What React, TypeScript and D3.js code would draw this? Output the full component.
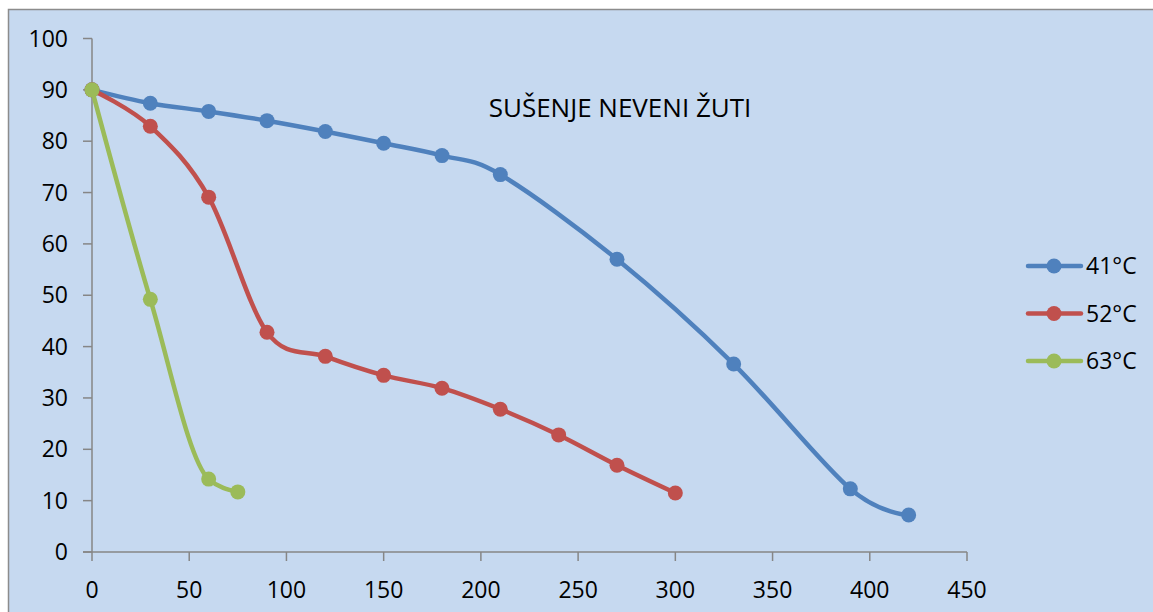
import React from "react";
import * as d3 from "d3";

const xTicks = [0, 50, 100, 150, 200, 250, 300, 350, 400, 450];
const yTicks = [0, 10, 20, 30, 40, 50, 60, 70, 80, 90, 100];

const t41x = [0, 30, 60, 90, 120, 150, 180, 210, 270, 330, 390, 420];
const t41y = [90, 87.4, 85.8, 84.0, 81.9, 79.6, 77.2, 73.5, 57.0, 36.6, 12.3, 7.2];
const t52x = [0, 30, 60, 90, 120, 150, 180, 210, 240, 270, 300];
const t52y = [90, 82.9, 69.1, 42.8, 38.1, 34.4, 31.9, 27.8, 22.8, 16.9, 11.5];
const t63x = [0, 30, 60, 75];
const t63y = [90, 49.2, 14.2, 11.7];

const seriesNames = ["41°C", "52°C", "63°C"];
const seriesColors = ["#4F81BD", "#C0504D", "#9BBB59"];
const title = "SUŠENJE NEVENI ŽUTI";

export default function App() {
  const W = 1153, H = 612;
  const x = d3.scaleLinear().domain([0, 450]).range([92, 967]);
  const y = d3.scaleLinear().domain([0, 100]).range([552, 38.5]);
  const series = [
    { name: seriesNames[0], color: seriesColors[0], pts: t41x.map((v, i) => [v, t41y[i]] as [number, number]), mono: false },
    { name: seriesNames[1], color: seriesColors[1], pts: t52x.map((v, i) => [v, t52y[i]] as [number, number]), mono: false },
    { name: seriesNames[2], color: seriesColors[2], pts: t63x.map((v, i) => [v, t63y[i]] as [number, number]), mono: true },
  ];
  const lineCR = d3.line<[number, number]>().x(d => x(d[0])).y(d => y(d[1])).curve(d3.curveCatmullRom.alpha(0));
  const lineMono = d3.line<[number, number]>().x(d => x(d[0])).y(d => y(d[1])).curve(d3.curveMonotoneX);
  const font = "'Open Sans', sans-serif";
  const axisColor = "#868686";
  return (
    <svg width={W} height={H} style={{ position: "absolute", left: 0, top: 0 }} fontFamily={font}>
      <rect x={0} y={0} width={W} height={H} fill="#ffffff" />
      <rect x={8.5} y={9.5} width={W + 20} height={H + 20} fill="#C6D9F0" stroke="#8C8C8C" strokeWidth={1.5} />
      {/* y axis */}
      <line x1={92} x2={92} y1={y(100)} y2={y(0)} stroke={axisColor} strokeWidth={1.5} />
      {yTicks.map(t => (
        <g key={"y" + t}>
          <line x1={83} x2={92} y1={y(t)} y2={y(t)} stroke={axisColor} strokeWidth={1.5} />
          <text x={68} y={y(t)} dy="0.35em" textAnchor="end" fontSize={23} fill="#000">{t}</text>
        </g>
      ))}
      {/* x axis */}
      <line x1={83} x2={x(450)} y1={y(0)} y2={y(0)} stroke={axisColor} strokeWidth={1.5} />
      {xTicks.map(t => (
        <g key={"x" + t}>
          <line x1={x(t)} x2={x(t)} y1={y(0)} y2={y(0) + 9} stroke={axisColor} strokeWidth={1.5} />
          <text x={x(t)} y={598} textAnchor="middle" fontSize={23} fill="#000">{t}</text>
        </g>
      ))}
      {/* series */}
      {series.map(s => (
        <g key={s.name}>
          <path d={(s.mono ? lineMono(s.pts) : lineCR(s.pts)) || ""} fill="none" stroke={s.color} strokeWidth={4.5} strokeLinejoin="round" strokeLinecap="round" />
          {s.pts.map((p, i) => (
            <circle key={i} cx={x(p[0])} cy={y(p[1])} r={7.5} fill={s.color} />
          ))}
        </g>
      ))}
      {/* title */}
      <text x={620} y={117} textAnchor="middle" fontSize={26} fill="#000">{title}</text>
      {/* legend */}
      {series.map((s, i) => {
        const ly = 266 + i * 47.5;
        return (
          <g key={"l" + s.name}>
            <line x1={1028} x2={1081} y1={ly} y2={ly} stroke={s.color} strokeWidth={4.5} strokeLinecap="round" />
            <circle cx={1054} cy={ly} r={7.5} fill={s.color} />
            <text x={1086} y={ly} dy="0.35em" fontSize={23} fill="#000">{s.name}</text>
          </g>
        );
      })}
    </svg>
  );
}
